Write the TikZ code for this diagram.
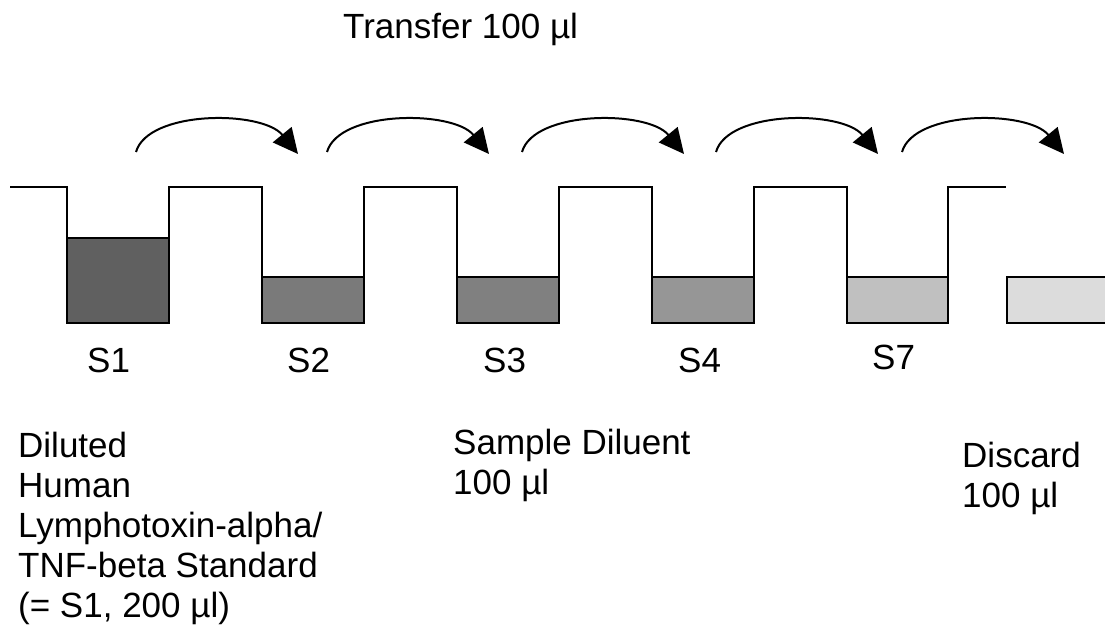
\documentclass[tikz,border=0pt]{standalone}
\usepackage{fontspec}
\setmainfont{Liberation Sans}
\usetikzlibrary{arrows.meta}
\definecolor{w1}{HTML}{606060}
\definecolor{w2}{HTML}{7A7A7A}
\definecolor{w3}{HTML}{808080}
\definecolor{w4}{HTML}{969696}
\definecolor{w5}{HTML}{C0C0C0}
\definecolor{w6}{HTML}{DCDCDC}
\begin{document}
\begin{tikzpicture}[x=1pt,y=-1pt,
  liquid/.style={draw=black,line width=2pt},
  profile/.style={draw=black,line width=2pt,line join=miter},
  transfer/.style={draw=black,line width=2pt,-{Triangle[length=25pt,width=24pt]}},
  lbl/.style={font=\fontsize{35}{40}\selectfont,inner sep=0pt,anchor=base west,align=left},
  blk/.style={font=\fontsize{35}{40}\selectfont,inner sep=0pt,anchor=north west,align=left}]
\useasboundingbox (0,0) rectangle (1105,628);
% liquids
\fill[w1] (67,238) rectangle (169,323);
\fill[w2] (262,277) rectangle (364,323);
\fill[w3] (457,277) rectangle (559,323);
\fill[w4] (652,277) rectangle (754,323);
\fill[w5] (847,277) rectangle (948,323);
\filldraw[fill=w6,liquid] (1007,277) rectangle (1115,323);
\draw[liquid] (67,238) -- (169,238);
\draw[liquid] (262,277) -- (364,277);
\draw[liquid] (457,277) -- (559,277);
\draw[liquid] (652,277) -- (754,277);
\draw[liquid] (847,277) -- (948,277);
% plate profile
\draw[profile] (10,187) -- (67,187) -- (67,323) -- (169,323) -- (169,187)
  -- (262,187) -- (262,323) -- (364,323) -- (364,187)
  -- (457,187) -- (457,323) -- (559,323) -- (559,187)
  -- (652,187) -- (652,323) -- (754,323) -- (754,187)
  -- (847,187) -- (847,323) -- (948,323) -- (948,187) -- (1006,187);
% transfer arrows
\foreach \i/\dx in {1/0,2/191,3/386,4/580,5/766}{
  \coordinate (s\i) at (136+\dx,152);
  \coordinate (e\i) at (298+\dx,154);
  \draw[transfer] (s\i) .. controls (148+\dx,110) and (262+\dx,110) .. (e\i);
}
% labels
\node[lbl] (title) at (343,39) {Transfer 100 µl};
\node[lbl] (l1) at (87,372) {S1};
\node[lbl] (l2) at (287,372) {S2};
\node[lbl] (l3) at (483,372) {S3};
\node[lbl] (l4) at (678,372) {S4};
\node[lbl] (l7) at (872,369) {S7};
\node[blk] (std) at (18,432) {Diluted\\Human\\Lymphotoxin-alpha/\\TNF-beta Standard\\(= S1, 200 µl)};
\node[blk] (dil) at (453,429) {Sample Diluent\\100 µl};
\node[blk] (dis) at (962,442) {Discard\\100 µl};
\end{tikzpicture}
\end{document}
